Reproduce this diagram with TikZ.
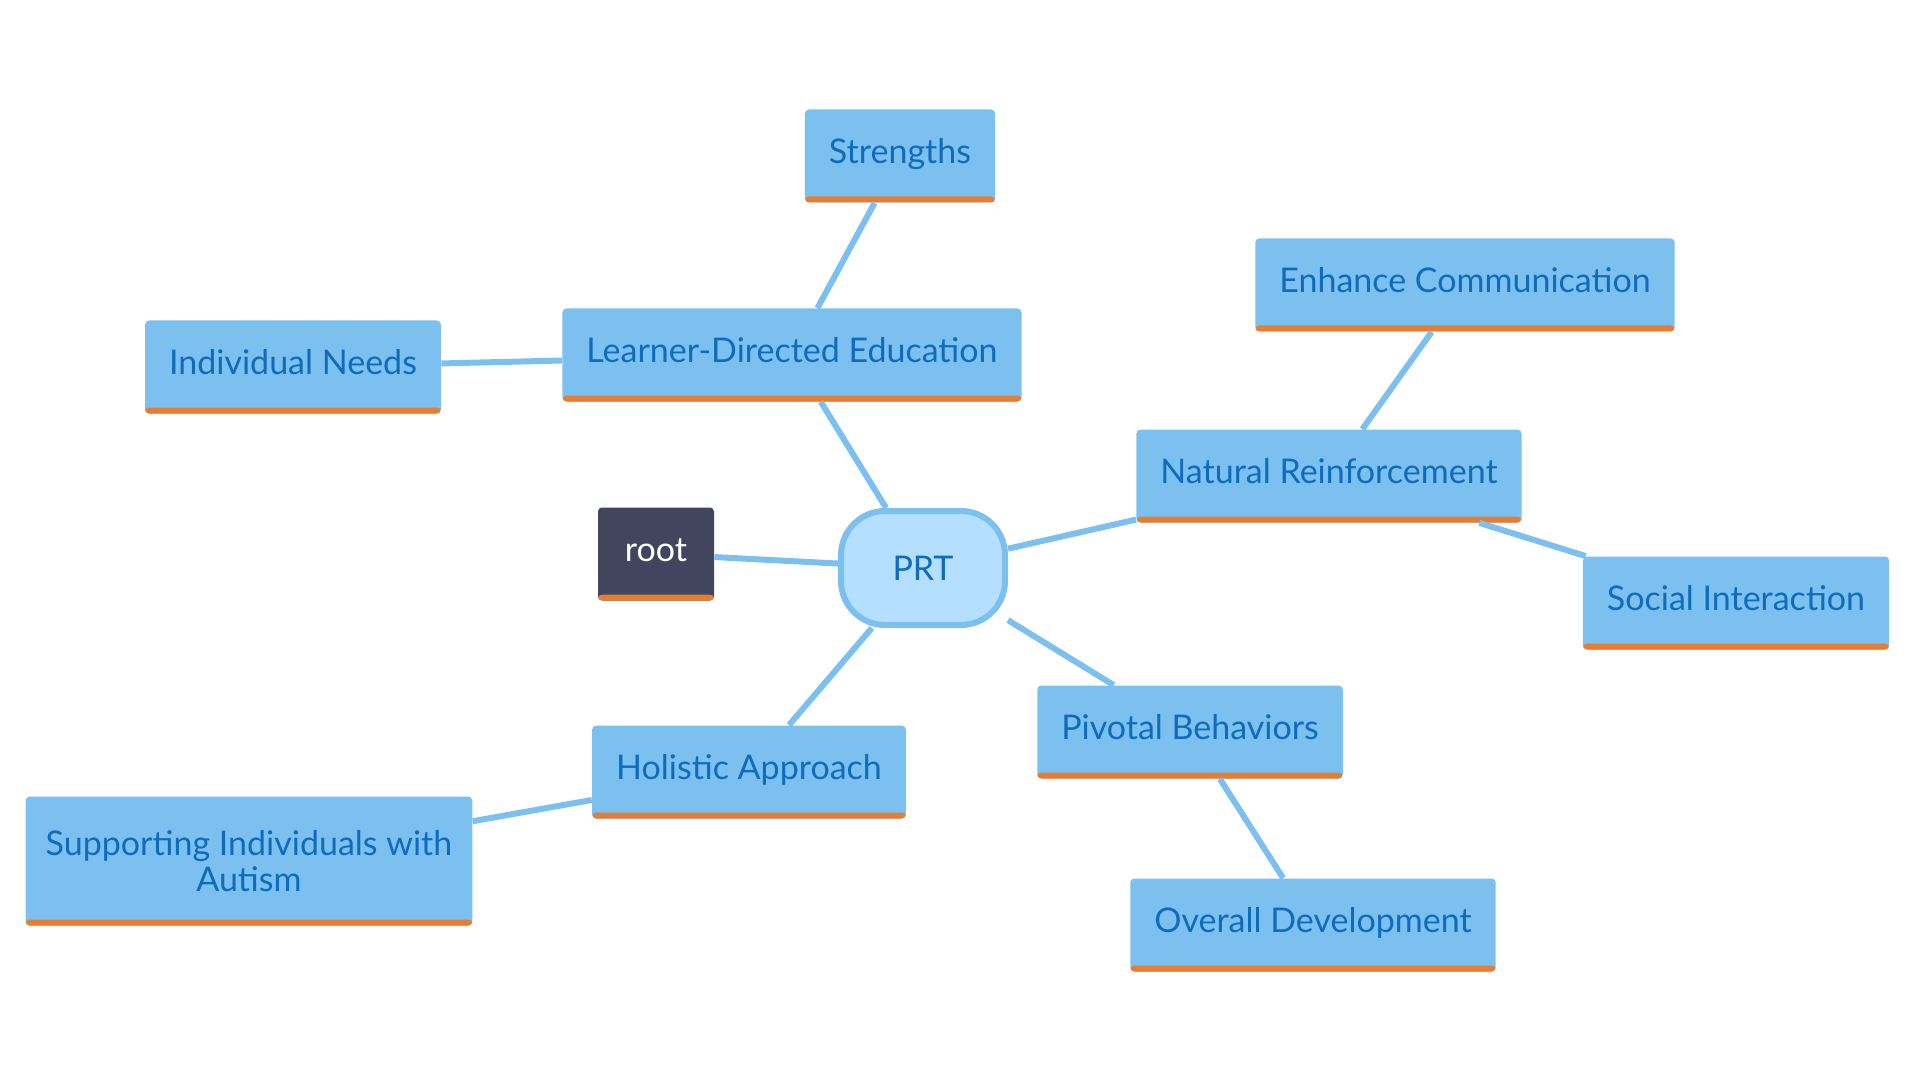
\documentclass[tikz,border=0pt]{standalone}
\usepackage{fontspec}
\setmainfont{Lato}
\usetikzlibrary{positioning}

\definecolor{boxblue}{HTML}{7CC0F0}
\definecolor{textblue}{HTML}{0F6CBD}
\definecolor{barorange}{HTML}{E87D30}
\definecolor{rootgrey}{HTML}{41455E}
\definecolor{prtfill}{HTML}{B4DFFE}

\begin{document}
\begin{tikzpicture}[
    x=0.5pt, y=-0.5pt,
    idea/.style={rectangle, rounded corners=2pt, fill=boxblue, text=textblue,
        minimum height=46.5pt, inner xsep=12pt, align=center, font=\fontsize{17}{19}\selectfont,
        text height=12.5pt, text depth=5pt,
        path picture={\fill[barorange] (path picture bounding box.south west)
            rectangle ([yshift=3pt]path picture bounding box.south east);}},
    hub/.style={rectangle, rounded corners=22pt, draw=boxblue, line width=3pt, fill=prtfill,
        text=textblue, minimum width=82pt, minimum height=57pt, font=\fontsize{17}{19}\selectfont},
    link/.style={draw=boxblue, line width=3pt}
]
    \useasboundingbox (0,0) rectangle (1920,1080);

    % Nodes
    \node[hub] (prt) at (923,568) {PRT};
    \node[idea, fill=rootgrey, text=white, minimum width=58pt] (root) at (656,554) {root};
    \node[idea] (learner) at (792,355) {Learner-Directed Education};
    \node[idea] (strengths) at (900,156) {Strengths};
    \node[idea] (needs) at (293,367) {Individual Needs};
    \node[idea] (natural) at (1329,476) {Natural Reinforcement};
    \node[idea] (enhance) at (1465,285) {Enhance Communication};
    \node[idea] (social) at (1736,603) {Social Interaction};
    \node[idea] (pivotal) at (1190,732) {Pivotal Behaviors};
    \node[idea] (overall) at (1313,925) {Overall Development};
    \node[idea] (holistic) at (749,772) {Holistic Approach};
    \node[idea, text height=, text depth=, inner xsep=10pt, minimum height=64.5pt, minimum width=222pt]
        (support) at (249,861) {Supporting Individuals with\\[-1pt]Autism};

    % Links
    \draw[link] (root) -- (prt);
    \draw[link] (prt) -- (learner);
    \draw[link] (learner) -- (strengths);
    \draw[link] (learner) -- (needs);
    \draw[link] (prt) -- (natural);
    \draw[link] (natural) -- (enhance);
    \draw[link] (natural) -- (social);
    \draw[link] (prt) -- (pivotal);
    \draw[link] (pivotal) -- (overall);
    \draw[link] (prt) -- (holistic);
    \draw[link] (holistic) -- (support);
\end{tikzpicture}
\end{document}
